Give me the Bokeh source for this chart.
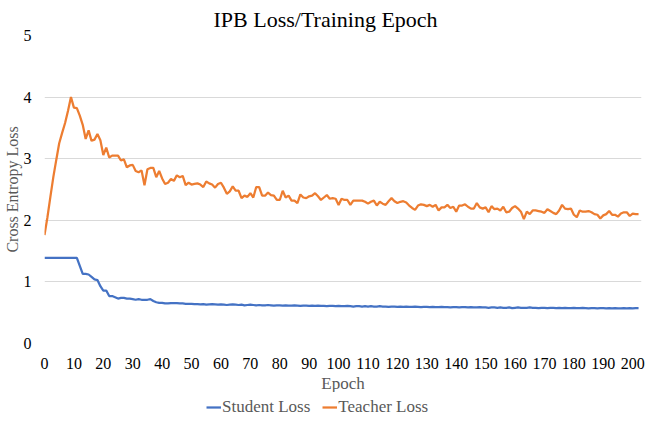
from bokeh.plotting import figure
from bokeh.models import Range1d, Legend, LegendItem, FixedTicker, Title
from bokeh.layouts import column
from bokeh.embed import file_html
from bokeh.resources import INLINE

title_text = "IPB Loss/Training Epoch"
x_label = "Epoch"
y_label = "Cross Entropy Loss"
series_names = ["Student Loss", "Teacher Loss"]

teacher_loss = [
    1.76, 2.05, 2.38, 2.70, 2.98, 3.25, 3.42, 3.58, 3.78, 4.00,
    3.83, 3.82, 3.70, 3.55, 3.32, 3.46, 3.29, 3.31, 3.40, 3.30,
    3.06, 3.18, 3.02, 3.05, 3.05, 3.05, 2.97, 2.99, 2.86, 2.89,
    2.90, 2.80, 2.78, 2.81, 2.57, 2.83, 2.85, 2.85, 2.70, 2.80,
    2.68, 2.59, 2.61, 2.67, 2.64, 2.73, 2.70, 2.72, 2.57, 2.61,
    2.58, 2.59, 2.60, 2.58, 2.54, 2.63, 2.60, 2.58, 2.53, 2.59,
    2.61, 2.53, 2.43, 2.47, 2.55, 2.48, 2.48, 2.36, 2.40, 2.38,
    2.44, 2.37, 2.54, 2.54, 2.40, 2.40, 2.45, 2.41, 2.40, 2.33,
    2.33, 2.48, 2.37, 2.40, 2.32, 2.32, 2.28, 2.42, 2.37, 2.36,
    2.39, 2.40, 2.44, 2.39, 2.33, 2.37, 2.41, 2.35, 2.36, 2.35,
    2.25, 2.35, 2.33, 2.33, 2.25, 2.32, 2.32, 2.32, 2.32, 2.30,
    2.27, 2.30, 2.32, 2.24, 2.30, 2.27, 2.25, 2.31, 2.36, 2.31,
    2.28, 2.30, 2.31, 2.29, 2.24, 2.20, 2.17, 2.24, 2.26, 2.25,
    2.23, 2.25, 2.22, 2.25, 2.16, 2.21, 2.21, 2.25, 2.20, 2.22,
    2.14, 2.24, 2.24, 2.26, 2.22, 2.19, 2.19, 2.28, 2.21, 2.19,
    2.21, 2.13, 2.23, 2.18, 2.19, 2.16, 2.22, 2.13, 2.14, 2.20,
    2.23, 2.19, 2.14, 2.02, 2.14, 2.10, 2.16, 2.16, 2.15, 2.14,
    2.12, 2.18, 2.15, 2.12, 2.10, 2.16, 2.25, 2.19, 2.18, 2.19,
    2.09, 2.05, 2.16, 2.14, 2.14, 2.15, 2.13, 2.10, 2.09, 2.03,
    2.08, 2.10, 2.15, 2.09, 2.09, 2.06, 2.11, 2.13, 2.13, 2.07,
    2.11, 2.10, 2.10,
]

student_loss = [
    1.39, 1.39, 1.39, 1.39, 1.39, 1.39, 1.39, 1.39, 1.39, 1.39,
    1.39, 1.39, 1.26, 1.13, 1.13, 1.12, 1.08, 1.04, 1.03, 0.93,
    0.86, 0.86, 0.77, 0.77, 0.75, 0.73, 0.74, 0.74, 0.73, 0.73,
    0.72, 0.71, 0.72, 0.71, 0.71, 0.71, 0.72, 0.69, 0.67, 0.66,
    0.66, 0.65, 0.65, 0.655, 0.655, 0.655, 0.65, 0.65, 0.645, 0.645,
    0.645, 0.64, 0.64, 0.635, 0.64, 0.63, 0.635, 0.64, 0.635, 0.63,
    0.635, 0.63, 0.625, 0.63, 0.635, 0.63, 0.625, 0.63, 0.62, 0.625,
    0.63, 0.625, 0.62, 0.625, 0.62, 0.62, 0.625, 0.62, 0.615, 0.62,
    0.62, 0.615, 0.62, 0.615, 0.615, 0.62, 0.615, 0.61, 0.615, 0.615,
    0.61, 0.615, 0.61, 0.615, 0.61, 0.61, 0.605, 0.61, 0.61, 0.605,
    0.61, 0.605, 0.605, 0.61, 0.605, 0.60, 0.605, 0.605, 0.60, 0.605,
    0.60, 0.605, 0.60, 0.60, 0.605, 0.60, 0.60, 0.595, 0.60, 0.60,
    0.595, 0.60, 0.595, 0.60, 0.595, 0.595, 0.60, 0.595, 0.59, 0.595,
    0.595, 0.59, 0.595, 0.59, 0.59, 0.595, 0.59, 0.59, 0.585, 0.59,
    0.59, 0.585, 0.59, 0.59, 0.585, 0.59, 0.585, 0.585, 0.59, 0.585,
    0.585, 0.58, 0.585, 0.585, 0.58, 0.585, 0.58, 0.58, 0.585, 0.575,
    0.58, 0.585, 0.58, 0.58, 0.58, 0.585, 0.58, 0.58, 0.575, 0.58,
    0.58, 0.575, 0.58, 0.58, 0.575, 0.58, 0.575, 0.58, 0.575, 0.575,
    0.58, 0.575, 0.575, 0.58, 0.575, 0.57, 0.575, 0.575, 0.57, 0.575,
    0.575, 0.57, 0.575, 0.57, 0.575, 0.57, 0.57, 0.575, 0.57, 0.575,
    0.57, 0.575, 0.575,
]

epochs = list(range(len(teacher_loss)))
x_ticks = [0, 10, 20, 30, 40, 50, 60, 70, 80, 90, 100,
           110, 120, 130, 140, 150, 160, 170, 180, 190, 200]
y_ticks = [0, 1, 2, 3, 4, 5]

SERIF = "Liberation Serif"
BLUE = "#4472C4"
ORANGE = "#ED7D31"

p = figure(frame_width=597, frame_height=308, output_backend="svg",
           toolbar_location=None,
           x_range=Range1d(0, 203), y_range=Range1d(0, 5),
           min_border_left=33, min_border_right=4, min_border_top=26,
           min_border_bottom=0, title=title_text)
p.outline_line_color = None
p.background_fill_color = "white"

p.title.align = "left"
p.title.offset = 169
p.title.text_font = SERIF
p.title.text_font_size = "22px"
p.title.text_font_style = "normal"
p.title.text_color = "#000000"
p.title.standoff = 8

r_s = p.line(epochs, student_loss, line_color=BLUE, line_width=2.25)
r_t = p.line(epochs, teacher_loss, line_color=ORANGE, line_width=2.25)

p.xgrid.grid_line_color = None
p.ygrid.grid_line_color = "#D9D9D9"
p.ygrid.grid_line_width = 1

p.xaxis.ticker = FixedTicker(ticks=x_ticks)
p.yaxis.ticker = FixedTicker(ticks=y_ticks)
for ax in (p.xaxis[0], p.yaxis[0]):
    ax.axis_line_color = None
    ax.major_tick_line_color = None
    ax.minor_tick_line_color = None
    ax.major_label_text_font = SERIF
    ax.major_label_text_font_size = "16px"
    ax.major_label_text_color = "#000000"
    ax.axis_label_text_font = SERIF
    ax.axis_label_text_font_style = "normal"
    ax.axis_label_text_color = "#595959"

p.yaxis.axis_label_text_font_size = "16px"
p.yaxis.axis_label = y_label
p.xaxis.major_label_standoff = 8
p.yaxis.major_label_standoff = 7
p.yaxis.axis_label_standoff = 0

x_title = Title(text=x_label, align="center", text_font=SERIF,
                text_font_size="17px", text_font_style="normal",
                text_color="#595959", standoff=0)
p.add_layout(x_title, "below")

# legend strip beneath the chart (series drawn out of view, only for the key)
lg = figure(frame_width=634, frame_height=22, output_backend="svg",
            toolbar_location=None, x_range=Range1d(0, 1),
            y_range=Range1d(10, 11),
            min_border_left=0, min_border_right=0, min_border_top=3,
            min_border_bottom=0)
lg.axis.visible = False
lg.grid.visible = False
lg.outline_line_color = None
l_s = lg.line(epochs, student_loss, line_color=BLUE, line_width=2.25)
l_t = lg.line(epochs, teacher_loss, line_color=ORANGE, line_width=2.25)

legend = Legend(items=[LegendItem(label=series_names[0], renderers=[l_s]),
                       LegendItem(label=series_names[1], renderers=[l_t])],
                orientation="horizontal", location=(206, 0))
legend.label_text_font = SERIF
legend.label_text_font_size = "17px"
legend.label_text_color = "#595959"
legend.glyph_width = 15
legend.glyph_height = 14
legend.label_standoff = 1
legend.spacing = 12
legend.padding = 0
legend.margin = 0
legend.border_line_color = None
legend.background_fill_alpha = 0
lg.add_layout(legend)

layout = column(p, lg, spacing=0)
open("out.html", "w").write(file_html(layout, INLINE))
